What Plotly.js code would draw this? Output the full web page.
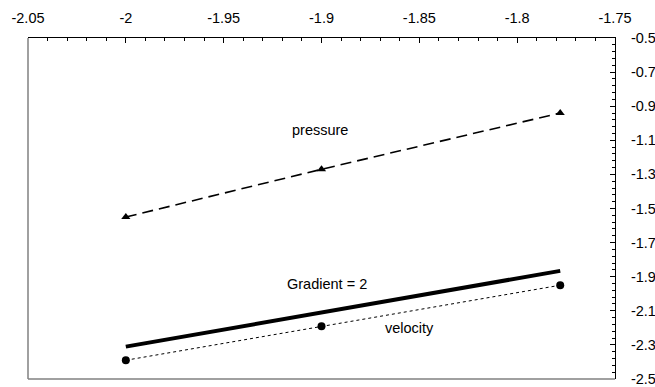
<!DOCTYPE html>
<html>
<head>
<meta charset="utf-8">
<script src="https://cdn.plot.ly/plotly-3.0.1.min.js"></script>
<style>
  html, body { margin: 0; padding: 0; background: #fff; }
  #chart { width: 655px; height: 387px; }
</style>
</head>
<body>
<div id="chart"></div>
<script>
// log-scale sample positions
const xValues = [-2, -1.9, -1.778];
// measured series
const pressure = [-1.55, -1.27, -0.94];
const velocity = [-2.39, -2.19, -1.95];
// reference line of slope 2
const gradientX = [-2, -1.778];
const gradientY = [-2.31, -1.866];

// tick positions and their labels (plain hyphen minus)
const xTickVals = [-2.05, -2, -1.95, -1.9, -1.85, -1.8, -1.75];
const xTickText = ['-2.05', '-2', '-1.95', '-1.9', '-1.85', '-1.8', '-1.75'];
const yTickVals = [-0.5, -0.7, -0.9, -1.1, -1.3, -1.5, -1.7, -1.9, -2.1, -2.3, -2.5];
const yTickText = ['-0.5', '-0.7', '-0.9', '-1.1', '-1.3', '-1.5', '-1.7', '-1.9', '-2.1', '-2.3', '-2.5'];

const font = { family: 'Liberation Sans, Arial, sans-serif', size: 14.5, color: '#000' };

const traces = [
  {
    x: xValues, y: pressure, type: 'scatter', mode: 'lines+markers', name: 'pressure',
    line: { color: '#000', width: 1.6, dash: '11px,6px' },
    marker: { symbol: 'triangle-up', size: 8, color: '#000' }
  },
  {
    x: xValues, y: velocity, type: 'scatter', mode: 'lines+markers', name: 'velocity',
    line: { color: '#000', width: 1, dash: 'dot' },
    marker: { symbol: 'circle', size: 8, color: '#000' }
  },
  {
    x: gradientX, y: gradientY, type: 'scatter', mode: 'lines', name: 'Gradient = 2',
    line: { color: '#000', width: 4 }
  }
];

const layout = {
  width: 655, height: 387,
  margin: { l: 28, r: 40, t: 38, b: 8 },
  paper_bgcolor: '#fff', plot_bgcolor: '#fff',
  showlegend: false,
  font: font,
  xaxis: {
    side: 'top', range: [-2.05, -1.75],
    tickmode: 'array', tickvals: xTickVals, ticktext: xTickText,
    showgrid: false, zeroline: false,
    showline: true, linecolor: '#000', linewidth: 1,
    ticks: 'inside', ticklen: 5, tickcolor: '#000', tickwidth: 1,
    ticklabelstandoff: 8, ticklabeloverflow: 'allow',
    minor: { tick0: -2.05, dtick: 0.01, ticks: 'inside', ticklen: 3, tickcolor: '#000', showgrid: false },
    tickfont: font
  },
  yaxis: {
    side: 'right', range: [-2.5, -0.5],
    tickmode: 'array', tickvals: yTickVals, ticktext: yTickText,
    showgrid: false, zeroline: false,
    showline: true, linecolor: '#000', linewidth: 1,
    ticks: 'inside', ticklen: 5, tickcolor: '#000', tickwidth: 1,
    ticklabelstandoff: 12, ticklabeloverflow: 'allow',
    minor: { tick0: -0.5, dtick: 0.04, ticks: 'inside', ticklen: 3, tickcolor: '#000', showgrid: false },
    tickfont: font
  },
  shapes: [
    { type: 'line', xref: 'paper', yref: 'paper', x0: 0, x1: 0, y0: 0, y1: 1, line: { color: '#808080', width: 1.5 } },
    { type: 'line', xref: 'paper', yref: 'paper', x0: 0, x1: 1, y0: 0, y1: 0, line: { color: '#808080', width: 1.5 } }
  ],
  annotations: [
    { x: -1.901, y: -1.04, text: 'pressure', showarrow: false, font: font },
    { x: -1.897, y: -1.94, text: 'Gradient = 2', showarrow: false, font: font },
    { x: -1.855, y: -2.2, text: 'velocity', showarrow: false, font: font }
  ]
};

Plotly.newPlot('chart', traces, layout, { displayModeBar: false, staticPlot: true });
</script>
</body>
</html>
